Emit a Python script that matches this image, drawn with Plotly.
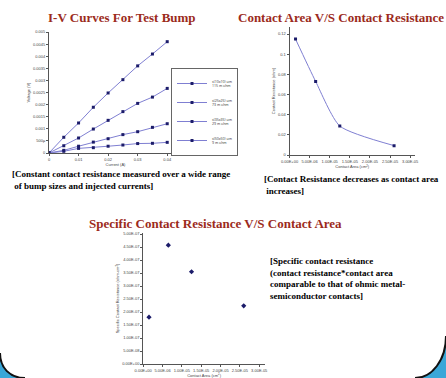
import plotly.graph_objects as go

W, H = 446, 378

# ---------------- data ----------------
current = [0, 0.005, 0.01, 0.015, 0.02, 0.025, 0.03, 0.035, 0.04]
v_s1 = [0, 0.00065, 0.00124, 0.00189, 0.00248, 0.00303, 0.0036, 0.00409, 0.0046]
v_s2 = [0, 0.00030, 0.00062, 0.00099, 0.00135, 0.00171, 0.00205, 0.00231, 0.00267]
v_s3 = [0, 0.00011, 0.00028, 0.00045, 0.00059, 0.00076, 0.00088, 0.00106, 0.00121]
v_s4 = [0, 0.00007, 0.00019, 0.00022, 0.00028, 0.00033, 0.00039, 0.00040, 0.00044]
series_names = ["s(10x10) um<br>115 m ohm", "s(25x25) um<br>73 m ohm",
                "s(35x35) um<br>29 m ohm", "s(50x50) um<br>9 m ohm"]

area = [1.5e-6, 6.5e-6, 1.25e-5, 2.6e-5]
contact_res = [0.115, 0.073, 0.0288, 0.0093]
specific_res = [1.8e-7, 4.57e-7, 3.55e-7, 2.24e-7]

iv_yticks = [0, 0.0005, 0.001, 0.0015, 0.002, 0.0025, 0.003, 0.0035, 0.004, 0.0045, 0.005]
iv_xticks = [0, 0.01, 0.02, 0.03, 0.04]
area_ticks = [0, 5e-6, 1e-5, 1.5e-5, 2e-5, 2.5e-5, 3e-5]
area_ticktext = ["0.00E+00", "5.00E-06", "1.00E-05", "1.50E-05", "2.00E-05", "2.50E-05", "3.00E-05"]
cr_ticks = [0, 0.02, 0.04, 0.06, 0.08, 0.1, 0.12]
cr_ticktext = ["0", "0.02", "0.04", "0.06", "0.08", "0.1", "0.12"]
sr_ticks = [0, 5e-8, 1e-7, 1.5e-7, 2e-7, 2.5e-7, 3e-7, 3.5e-7, 4e-7, 4.5e-7, 5e-7]
sr_ticktext = ["0.00E+00", "5.00E-08", "1.00E-07", "1.50E-07", "2.00E-07", "2.50E-07",
               "3.00E-07", "3.50E-07", "4.00E-07", "4.50E-07", "5.00E-07"]

# ---------------- style ----------------
LINE = "#7f7fd2"
MARK = "#1c1c6a"
TITLE_C = "#9c2b1c"
SERIF = "Liberation Serif, Times New Roman, serif"


def px(x):
    return x / W


def py(y):
    return 1 - y / H


fig = go.Figure()

for vals, name in zip([v_s1, v_s2, v_s3, v_s4], series_names):
    fig.add_trace(go.Scatter(x=current, y=vals, mode="lines+markers", name=name,
                             line=dict(color=LINE, width=1),
                             marker=dict(symbol="square", size=3, color=MARK),
                             xaxis="x", yaxis="y"))

fig.add_trace(go.Scatter(x=area, y=contact_res, mode="lines+markers", showlegend=False,
                         line=dict(color=LINE, width=1, shape="spline", smoothing=0.6),
                         marker=dict(symbol="square", size=3, color=MARK),
                         xaxis="x2", yaxis="y2"))

fig.add_trace(go.Scatter(x=area, y=specific_res, mode="markers", showlegend=False,
                         marker=dict(symbol="diamond", size=4, color=MARK),
                         xaxis="x3", yaxis="y3"))

tickfont = dict(size=4, color="#444", family="Arial, Liberation Sans, sans-serif")
titlefont = dict(size=4, color="#444", family="Arial, Liberation Sans, sans-serif")
axis_common = dict(showgrid=False, zeroline=False, showline=True, linecolor="#555",
                   linewidth=1, ticks="outside", ticklen=2, tickcolor="#555",
                   tickfont=tickfont, tickangle=0, automargin=False)

fig.update_layout(
    width=W, height=H,
    margin=dict(l=0, r=0, t=0, b=0, pad=0, autoexpand=False),
    paper_bgcolor="white", plot_bgcolor="white",
    xaxis=dict(domain=[px(49), px(182)], range=[0, 0.045], tickvals=iv_xticks,
               title=dict(text="Current (A)", font=titlefont, standoff=2),
               anchor="y", **axis_common),
    yaxis=dict(domain=[py(153), py(32)], range=[0, 0.005], tickvals=iv_yticks,
               title=dict(text="Voltage (V)", font=titlefont, standoff=2),
               anchor="x", **axis_common),
    xaxis2=dict(domain=[px(289.5), px(415)], range=[0, 3.12e-5], tickvals=area_ticks,
                ticktext=area_ticktext,
                title=dict(text="Contact Area (cm<sup>2</sup>)", font=titlefont, standoff=2),
                anchor="y2", **axis_common),
    yaxis2=dict(domain=[py(155), py(27)], range=[0, 0.127], tickvals=cr_ticks,
                ticktext=cr_ticktext,
                title=dict(text="Contact Resistance (ohm)", font=titlefont, standoff=2),
                anchor="x2", **axis_common),
    xaxis3=dict(domain=[px(143.2), px(265)], range=[0, 3.15e-5], tickvals=area_ticks,
                ticktext=area_ticktext,
                title=dict(text="Contact Area (cm<sup>2</sup>)", font=titlefont, standoff=2),
                anchor="y3", **axis_common),
    yaxis3=dict(domain=[py(364), py(233)], range=[0, 5.04e-7], tickvals=sr_ticks,
                ticktext=sr_ticktext,
                title=dict(text="Specific Contact Resistance (ohm-cm<sup>2</sup>)",
                           font=titlefont, standoff=2),
                anchor="x3", **axis_common),
    legend=dict(x=px(171), y=py(68), xanchor="left", yanchor="top",
                bgcolor="white", bordercolor="#666", borderwidth=1,
                font=dict(size=3.5, color="#333"), itemwidth=30,
                tracegroupgap=5),
    showlegend=True,
)

ann = []
ann.append(dict(text="<b>I-V Curves For Test Bump</b>", x=px(121.5), y=py(17),
                font=dict(family=SERIF, size=13, color=TITLE_C)))
ann.append(dict(text="<b>Contact Area V/S Contact Resistance</b>", x=px(341), y=py(17),
                font=dict(family=SERIF, size=13, color=TITLE_C)))
ann.append(dict(text="<b>Specific Contact Resistance V/S Contact Area</b>", x=px(215), y=py(223),
                font=dict(family=SERIF, size=13, color=TITLE_C)))
ann.append(dict(text="<b>[Constant contact resistance measured over a wide range<br>&nbsp;of bump sizes and injected currents]</b>",
                x=px(10), y=py(167), xanchor="left", yanchor="top", align="left",
                font=dict(family=SERIF, size=9, color="black")))
ann.append(dict(text="<b>[Contact Resistance decreases as contact area<br>&nbsp;increases]</b>",
                x=px(262), y=py(172), xanchor="left", yanchor="top", align="left",
                font=dict(family=SERIF, size=9, color="black")))
ann.append(dict(text="<b>[Specific contact resistance<br>(contact resistance*contact area<br>comparable to that of ohmic metal-<br>semiconductor contacts]</b>",
                x=px(268), y=py(254), xanchor="left", yanchor="top", align="left",
                font=dict(family=SERIF, size=9, color="black")))
for a in ann:
    a.setdefault("xanchor", "center")
    a.setdefault("yanchor", "middle")
    a.update(xref="paper", yref="paper", showarrow=False)
fig.update_layout(annotations=ann)

# poster background corners
BLUE = "#3aa7d8"
shapes = [
    dict(type="path", xref="paper", yref="paper",
         path=f"M 0,{py(353)} C 0,{py(368)} {px(10)},{py(378)} {px(25)},{py(378)} L 0,{py(378)} Z",
         fillcolor=BLUE, line=dict(width=0)),
    dict(type="path", xref="paper", yref="paper",
         path=f"M 0,{py(353)} C 0,{py(368)} {px(10)},{py(378)} {px(25)},{py(378)}",
         line=dict(color="#111", width=2)),
    dict(type="path", xref="paper", yref="paper",
         path=f"M {px(446)},{py(336)} C {px(446)},{py(360)} {px(432)},{py(378)} {px(415)},{py(378)} L {px(446)},{py(378)} Z",
         fillcolor=BLUE, line=dict(width=0)),
    dict(type="path", xref="paper", yref="paper",
         path=f"M {px(446)},{py(336)} C {px(446)},{py(360)} {px(432)},{py(378)} {px(415)},{py(378)}",
         line=dict(color="#111", width=2)),
]
fig.update_layout(shapes=shapes)

fig.write_html("out.html", config={"displayModeBar": False},
               post_script="document.body.style.margin='0';document.body.style.overflow='hidden';")
